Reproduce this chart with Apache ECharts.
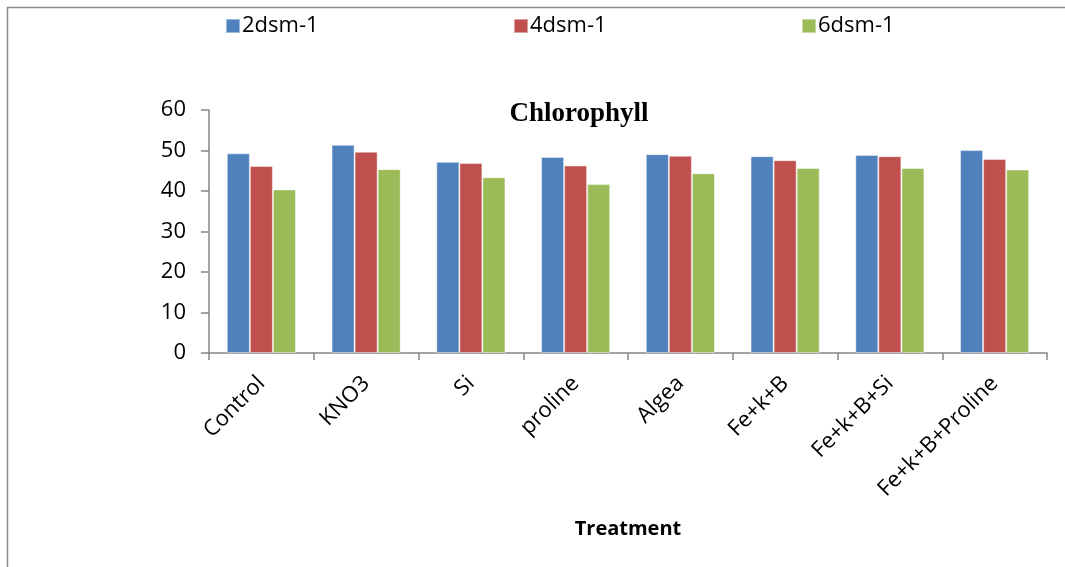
<!DOCTYPE html>
<html>
<head>
<meta charset="utf-8">
<script src="https://cdn.jsdelivr.net/npm/echarts@6/dist/echarts.min.js"></script>
<style>
html,body{margin:0;padding:0;background:#fff;}
#chart{width:1065px;height:567px;}
</style>
</head>
<body>
<div id="chart"></div>
<script>
const categories = ["Control","KNO3","Si","proline","Algea","Fe+k+B","Fe+k+B+Si","Fe+k+B+Proline"];
const s2dsm = [49.3, 51.4, 47.2, 48.4, 49.1, 48.6, 48.9, 50.1];
const s4dsm = [46.2, 49.7, 46.9, 46.3, 48.7, 47.6, 48.6, 47.9];
const s6dsm = [40.4, 45.4, 43.4, 41.7, 44.4, 45.7, 45.7, 45.3];
const seriesNames = ["2dsm-1","4dsm-1","6dsm-1"];
const colors = ["#4F81BD","#C0504D","#9BBB59"];
const yTicks = {min:0, max:60, interval:10};

const font = "'Open Sans', 'Liberation Sans', sans-serif";
const chart = echarts.init(document.getElementById('chart'));
const legendLefts = [220, 508, 796];
chart.setOption({
  animation:false,
  backgroundColor:'#fff',
  graphic:[{type:'rect', shape:{x:7.5,y:7.5,width:1200,height:700}, style:{fill:null, stroke:'#8c8c8c', lineWidth:1.5}, silent:true}],
  title:{text:'Chlorophyll', left:574, top:96, textAlign:'center',
    textStyle:{fontFamily:"'Liberation Serif','Times New Roman',serif", fontWeight:'bold', fontSize:27, color:'#000'}},
  legend: seriesNames.map((n,i)=>({data:[n], left:legendLefts[i], top:10, itemWidth:14, itemHeight:14, itemGap:0,
    icon:'rect', textStyle:{fontFamily:font, fontSize:22, color:'#000', padding:[0,0,0,-3]}})),
  grid:{left:209, right:18, top:110, bottom:214, containLabel:false},
  xAxis:{type:'category', data:categories,
    name:'Treatment', nameLocation:'middle', nameGap:166,
    nameTextStyle:{fontFamily:font, fontWeight:'bold', fontSize:20, color:'#000'},
    axisLine:{lineStyle:{color:'#868686', width:1.5}},
    axisTick:{show:true, length:7, lineStyle:{color:'#868686', width:1.5}},
    axisLabel:{rotate:45, margin:27, fontFamily:font, fontSize:22, color:'#000', interval:0}},
  yAxis:{type:'value', min:yTicks.min, max:yTicks.max, interval:yTicks.interval,
    axisLine:{show:true, lineStyle:{color:'#868686', width:1.5}},
    axisTick:{show:true, length:8, lineStyle:{color:'#868686', width:1.5}},
    splitLine:{show:false},
    axisLabel:{margin:23, fontFamily:font, fontSize:22, color:'#000'}},
  series:[s2dsm,s4dsm,s6dsm].map((d,i)=>({name:seriesNames[i], type:'bar', data:d,
    barGap:'0%', barCategoryGap:'34%',
    itemStyle:{color:colors[i], borderColor:'rgba(255,255,255,0.45)', borderWidth:1}}))
});
</script>
</body>
</html>
